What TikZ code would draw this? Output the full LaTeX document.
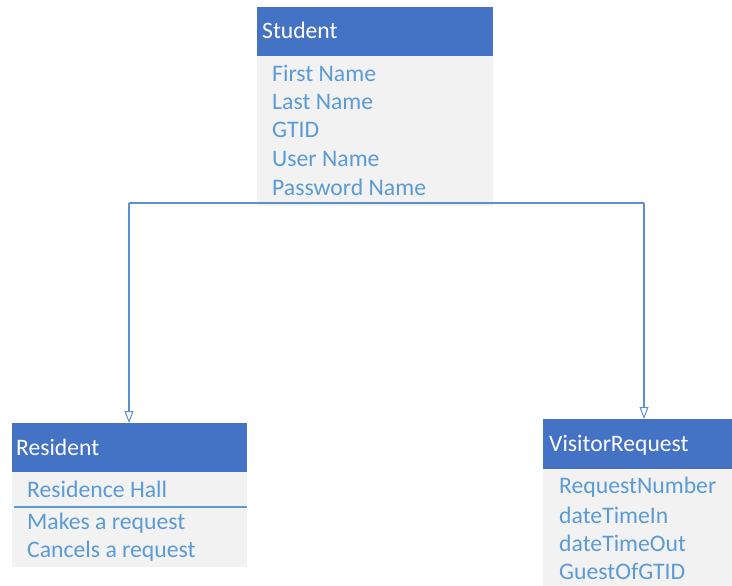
\documentclass[tikz,border=0pt]{standalone}
\usepackage{fontspec}
\setmainfont{Carlito}
\usetikzlibrary{arrows.meta}
\definecolor{hdrblue}{HTML}{4472C4}
\definecolor{bodygray}{HTML}{F2F2F2}
\definecolor{attrblue}{HTML}{5B9BD5}
\definecolor{linkblue}{HTML}{5B8FD0}
\tikzset{
  hdr/.style={fill=hdrblue, draw=none, inner sep=0, anchor=north west},
  bodybox/.style={fill=bodygray, draw=none, inner sep=0, anchor=north west},
  hdrtxt/.style={text=white, inner sep=0, anchor=base west, font=\fontsize{23.6}{28}\selectfont},
  attr/.style={text=attrblue, inner sep=0, anchor=base west, font=\fontsize{23.7}{28}\selectfont},
  conn/.style={draw=linkblue, line width=1.1pt},
  inherit/.style={conn, -{Triangle[open, length=12pt, width=9pt, line width=1pt]}},
}
\begin{document}
\begin{tikzpicture}[x=1pt, y=-1pt]
\useasboundingbox (0,0) rectangle (732,586);

% Student class
\node[bodybox, minimum width=236pt, minimum height=150pt] (stuB) at (257,56) {};
\node[hdr, minimum width=236pt, minimum height=49pt] (stuH) at (257,7) {};
\node[hdrtxt] (stuT) at (262,39) {Student};
\node[attr] (stuA1) at (272,82) {First Name};
\node[attr] (stuA2) at (272,110) {Last Name};
\node[attr] (stuA3) at (272,138) {GTID};
\node[attr] (stuA4) at (272,167) {User Name};
\node[attr] (stuA5) at (272,195) {Password Name};

% Resident class
\node[bodybox, minimum width=235pt, minimum height=95pt] (resB) at (12,472) {};
\node[hdr, minimum width=235pt, minimum height=49pt] (resH) at (12,423) {};
\node[hdrtxt] (resT) at (16,455) {Resident};
\node[attr] (resA1) at (27,497) {Residence Hall};
\draw[draw=attrblue, line width=1.2pt] (14,507) -- (247,507);
\node[attr] (resM1) at (27,529) {Makes a request};
\node[attr] (resM2) at (27,557) {Cancels a request};

% VisitorRequest class
\node[bodybox, minimum width=189pt, minimum height=118pt] (visB) at (543,469) {};
\node[hdr, minimum width=189pt, minimum height=50pt] (visH) at (543,419) {};
\node[hdrtxt] (visT) at (549,451) {VisitorRequest};
\node[attr] (visA1) at (559,493) {RequestNumber};
\node[attr] (visA2) at (559,523) {dateTimeIn};
\node[attr] (visA3) at (559,551) {dateTimeOut};
\node[attr] (visA4) at (559,579) {GuestOfGTID};

% Generalisation connectors
\coordinate (jL) at (129,203);
\coordinate (jR) at (644,203);
\draw[conn] (jL) -- (jR);
\draw[inherit] (jL) -- (jL |- resH.north);
\draw[inherit] (jR) -- (jR |- visH.north);
\end{tikzpicture}
\end{document}
